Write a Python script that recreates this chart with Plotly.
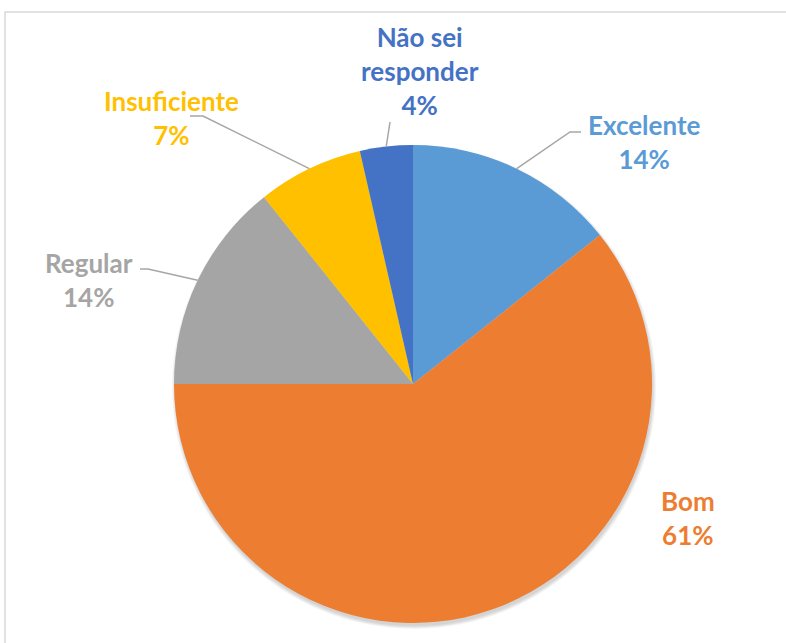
import math
import plotly.graph_objects as go

categories = ["Excelente", "Bom", "Regular", "Insuficiente", "Não sei responder"]
counts = [4, 17, 4, 2, 1]
colors = ["#5B9BD5", "#ED7D31", "#A5A5A5", "#FFC000", "#4472C4"]
label_lines = ["Excelente", "Bom", "Regular", "Insuficiente", "Não sei<br>responder"]

W, H = 786, 643
CX, CY, R = 413, 384, 239

# label placement (pixels): text centre, elbow point and leader end
label_pos = {
    "Excelente": dict(x=644, y=142, elbow=(570, 132), end=(581, 132)),
    "Bom": dict(x=688, y=518, elbow=None, end=None),
    "Regular": dict(x=89, y=280, elbow=(148, 269), end=(140, 269)),
    "Insuficiente": dict(x=171, y=118, elbow=(203, 116), end=(190, 116)),
    "Não sei responder": dict(x=420, y=71, elbow=None, end=(390, 122)),
}


def dom(cx, cy, r):
    return dict(x=[(cx - r) / W, (cx + r) / W], y=[(H - cy - r) / H, (H - cy + r) / H])


fig = go.Figure()
# soft shadow
for i, a in enumerate([0.045, 0.045, 0.045, 0.045]):
    fig.add_trace(go.Pie(
        values=[1], sort=False, marker=dict(colors=[f"rgba(0,0,0,{a})"], line=dict(width=0)),
        textinfo="none", hoverinfo="skip", showlegend=False,
        domain=dom(CX + 1, CY + 3, R + i),
    ))
fig.add_trace(go.Pie(
    labels=categories, values=counts, sort=False, direction="clockwise", rotation=0,
    marker=dict(colors=colors, line=dict(color="white", width=0)),
    textinfo="none", hoverinfo="label+percent", showlegend=False,
    domain=dom(CX, CY, R),
))

total = sum(counts)
cum = 0
shapes = []
annotations = []
for cat, v, col, txt in zip(categories, counts, colors, label_lines):
    mid = (cum + v / 2) / total * 2 * math.pi
    cum += v
    ax = CX + R * math.sin(mid)
    ay = CY - R * math.cos(mid)
    p = label_pos[cat]
    pct = round(v / total * 100)
    annotations.append(dict(
        x=p["x"], y=p["y"], xref="x", yref="y", showarrow=False,
        text=f"<b>{txt}<br>{pct}%</b>", align="center",
        font=dict(family="Lato, 'Open Sans', sans-serif", size=26, color=col),
        xanchor="center", yanchor="middle",
    ))
    if p["end"] is not None:
        pts = [(ax, ay)]
        if p["elbow"] is not None:
            pts.append(p["elbow"])
        pts.append(p["end"])
        path = "M " + " L ".join(f"{x},{y}" for x, y in pts)
        shapes.append(dict(type="path", path=path, xref="x", yref="y",
                           line=dict(color="#A6A6A6", width=1.5)))

# chart border
shapes.append(dict(type="rect", xref="paper", yref="paper", x0=5 / W, x1=1.2, y0=-0.2, y1=(H - 12) / H,
                   line=dict(color="#D9D9D9", width=1.5), fillcolor="rgba(0,0,0,0)", layer="below"))

fig.update_layout(
    width=W, height=H, margin=dict(l=0, r=0, t=0, b=0),
    paper_bgcolor="white", plot_bgcolor="rgba(0,0,0,0)",
    xaxis=dict(range=[0, W], visible=False, fixedrange=True),
    yaxis=dict(range=[H, 0], visible=False, fixedrange=True),
    shapes=shapes, annotations=annotations,
)
fig.write_html("out.html", config={"displayModeBar": False},
               post_script="document.body.style.margin='0px';document.body.style.overflow='hidden';")
